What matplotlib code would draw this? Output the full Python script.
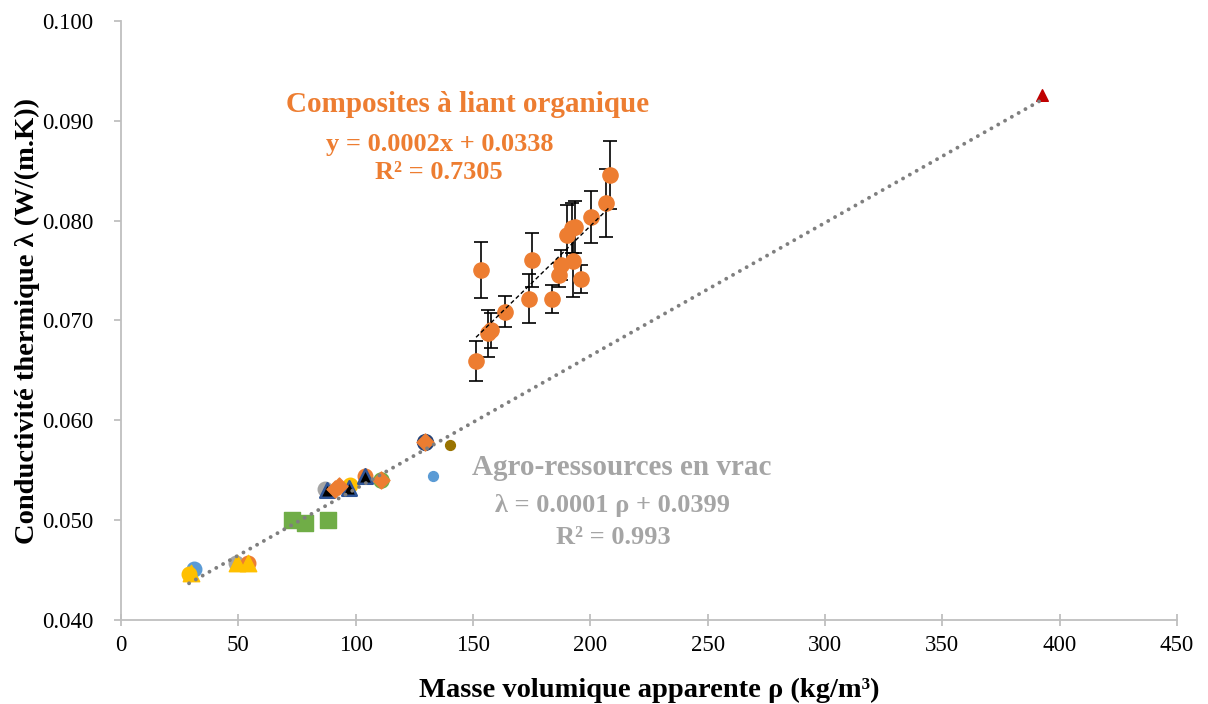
import numpy as np
import matplotlib
matplotlib.use("Agg")
import matplotlib.pyplot as plt

plt.rcParams['font.family'] = ['Liberation Serif', 'DejaVu Serif']

# ---- Composites à liant organique (with error bars)
comp_x = [151.3, 153.6, 156.5, 157.5, 163.6, 173.9, 175.1, 183.6, 186.6, 187.5,
          190.0, 192.2, 193.5, 192.6, 196.0, 200.3, 206.6, 208.4]
comp_y = [0.0659, 0.0751, 0.0687, 0.0690, 0.0709, 0.0722, 0.0761, 0.0722, 0.0746, 0.0756,
          0.0786, 0.0793, 0.0794, 0.0760, 0.0742, 0.0804, 0.0818, 0.0846]
comp_err = [0.0020, 0.0028, 0.0024, 0.0018, 0.0016, 0.0025, 0.0027, 0.0014, 0.0012, 0.0015,
            0.0030, 0.0025, 0.0026, 0.0036, 0.0014, 0.0026, 0.0034, 0.0034]

# ---- Agro-ressources en vrac (several series)
blue_c_x = [31.0, 88.0]
blue_c_y = [0.0451, 0.0500]
orange_c_x = [54.0, 104.0]
orange_c_y = [0.0457, 0.0544]
gray_c_x = [49.0, 87.0]
gray_c_y = [0.0457, 0.0531]
yellow_c_x = [29.0, 97.5]
yellow_c_y = [0.0446, 0.0535]
dgreen_c_x = [78.5]
dgreen_c_y = [0.0497]
green_c_x = [111.0]
green_c_y = [0.0540]
navy_c_x = [129.5]
navy_c_y = [0.0578]
small_blue_x = [133.0]
small_blue_y = [0.0544]
small_brown_x = [140.2]
small_brown_y = [0.0575]
yellow_t_x = [30.0, 49.5, 54.0]
yellow_t_y = [0.0447, 0.0457, 0.0457]
green_s_x = [73.0, 78.5, 88.0]
green_s_y = [0.0500, 0.0497, 0.0500]
black_t_x = [87.8, 97.2, 104.0]
black_t_y = [0.0530, 0.0532, 0.0544]
orange_d_x = [91.0, 93.0, 111.0, 129.5]
orange_d_y = [0.0531, 0.0534, 0.0540, 0.0578]
red_t_x = [392.5]
red_t_y = [0.0926]

bulk_x = (blue_c_x + orange_c_x + gray_c_x + yellow_c_x + dgreen_c_x + green_c_x +
          navy_c_x + small_blue_x + small_brown_x + yellow_t_x + green_s_x +
          black_t_x + orange_d_x + red_t_x)
bulk_y = (blue_c_y + orange_c_y + gray_c_y + yellow_c_y + dgreen_c_y + green_c_y +
          navy_c_y + small_blue_y + small_brown_y + yellow_t_y + green_s_y +
          black_t_y + orange_d_y + red_t_y)

x_ticks = [0, 50, 100, 150, 200, 250, 300, 350, 400, 450]
y_ticks = [0.040, 0.050, 0.060, 0.070, 0.080, 0.090, 0.100]

fig = plt.figure(figsize=(12.08, 7.04), dpi=100)
ax = fig.add_axes([121/1208, 84/704, (1177-121)/1208, (620-21)/704])

ORANGE = '#ED7D31'
GRAY = '#A5A5A5'

# bulk trendline
p_b = np.polyfit(bulk_x, bulk_y, 1)
xb = np.array([min(bulk_x), max(bulk_x)])
ax.plot(xb, np.polyval(p_b, xb), color='#7F7F7F', lw=2.8,
        linestyle=(0, (0.01, 2.0)), dash_capstyle='round', solid_capstyle='round', zorder=5)

# bulk series
ax.scatter(blue_c_x, blue_c_y, s=110, color='#5B9BD5', zorder=2)
ax.scatter(gray_c_x, gray_c_y, s=110, color=GRAY, zorder=2)
ax.scatter(orange_c_x, orange_c_y, s=110, color=ORANGE, zorder=2)
ax.scatter(yellow_c_x, yellow_c_y, s=110, color='#FFC000', zorder=2)
ax.scatter(dgreen_c_x, dgreen_c_y, s=110, color='#548235', zorder=2)
ax.scatter(green_c_x, green_c_y, s=120, color='#70AD47', zorder=2)
ax.scatter(navy_c_x, navy_c_y, s=130, color='#264478', zorder=2)
ax.scatter(small_blue_x, small_blue_y, s=50, color='#5B9BD5', zorder=3)
ax.scatter(small_brown_x, small_brown_y, s=50, color='#997300', zorder=3)
ax.scatter(green_s_x, green_s_y, s=120, marker='s', color='#70AD47', zorder=3)
ax.scatter(yellow_t_x, yellow_t_y, s=140, marker='^', color='#FFC000', zorder=3)
ax.scatter(black_t_x, black_t_y, s=110, marker='^', color='black',
           edgecolors='#2F5597', linewidths=1.8, zorder=3)
ax.scatter(orange_d_x, orange_d_y, s=75, marker='D', color=ORANGE, zorder=4)
ax.scatter(red_t_x, red_t_y, s=70, marker='^', color='#C00000', zorder=3)

# composites
p_c = np.polyfit(comp_x, comp_y, 1)
xc = np.array([min(comp_x), max(comp_x)])
ax.errorbar(comp_x, comp_y, yerr=comp_err, fmt='none', ecolor='black',
            elinewidth=1.2, capsize=5, capthick=1.2, zorder=3)
ax.scatter(comp_x, comp_y, s=120, color=ORANGE, zorder=4)
ax.plot(xc, np.polyval(p_c, xc), color='black', lw=1.0,
        linestyle=(0, (3, 2)), zorder=5)

# annotations
ax.text(147.6, 0.0916, 'Composites à liant organique', color=ORANGE,
        fontsize=21, fontweight='bold', ha='center', va='center')
ax.text(135.9, 0.0876, 'y = 0.0002x + 0.0338', color=ORANGE,
        fontsize=19, fontweight='bold', ha='center', va='center')
ax.text(135.5, 0.0848, 'R² = 0.7305', color=ORANGE,
        fontsize=19, fontweight='bold', ha='center', va='center')
ax.text(213.5, 0.0553, 'Agro-ressources en vrac', color=GRAY,
        fontsize=21, fontweight='bold', ha='center', va='center')
ax.text(209.6, 0.0515, 'λ = 0.0001 ρ + 0.0399', color=GRAY,
        fontsize=19, fontweight='bold', ha='center', va='center')
ax.text(209.6, 0.0483, 'R² = 0.993', color=GRAY,
        fontsize=19, fontweight='bold', ha='center', va='center')

ax.set_xlim(0, 450)
ax.set_ylim(0.040, 0.100)
ax.set_xticks(x_ticks)
ax.set_yticks(y_ticks)
ax.set_xticklabels([str(v) for v in x_ticks])
ax.set_yticklabels([f'{v:.3f}' for v in y_ticks])

for s in ['top', 'right']:
    ax.spines[s].set_visible(False)
for s in ['left', 'bottom']:
    ax.spines[s].set_color('#BFBFBF')
    ax.spines[s].set_linewidth(1.3)
ax.tick_params(axis='x', direction='inout', length=9, width=1.3, color='#BFBFBF',
               labelsize=16.5, pad=6)
ax.tick_params(axis='y', direction='out', length=5, width=1.3, color='#BFBFBF',
               labelsize=16.5, pad=15)

ax.set_xlabel('Masse volumique apparente ρ (kg/m³)', fontsize=20.5, fontweight='bold', labelpad=16)
ax.set_ylabel('Conductivité thermique λ (W/(m.K))', fontsize=20.5, fontweight='bold', labelpad=1)

fig.savefig('out.png', dpi=100)
